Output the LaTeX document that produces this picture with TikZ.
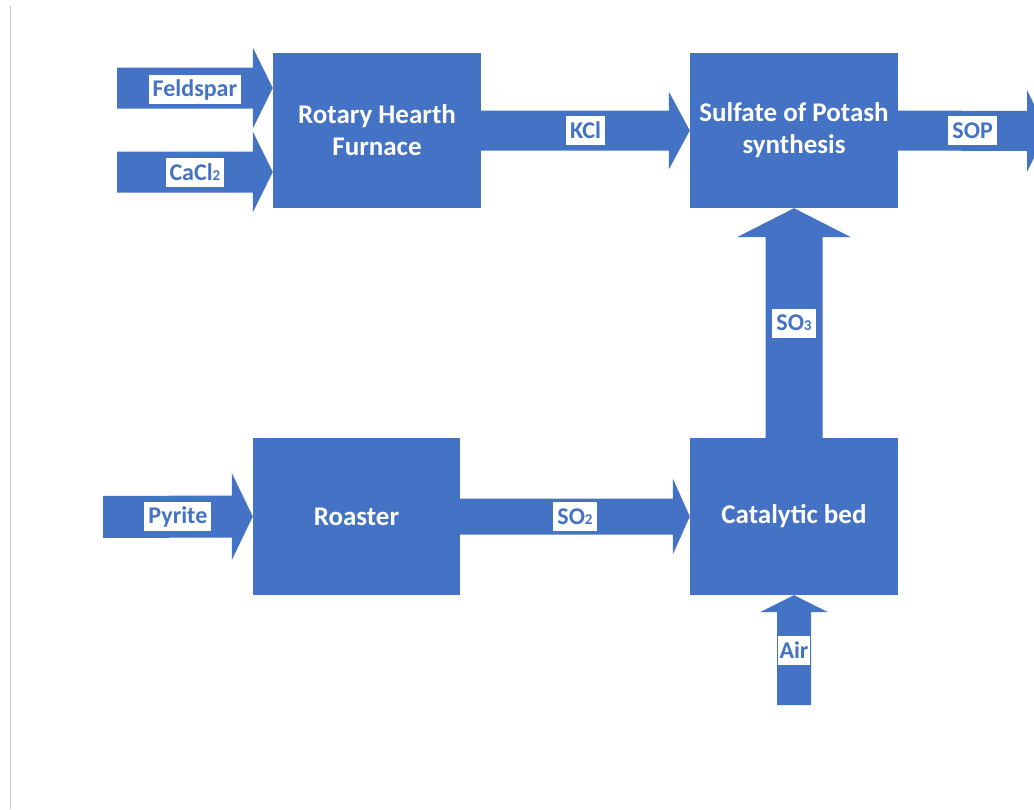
\documentclass[tikz,border=0pt]{standalone}
\usepackage{fontspec}
\setmainfont{Carlito}
\usetikzlibrary{calc,positioning}

\definecolor{flowblue}{HTML}{4472C4}

% block arrow pointing right: from, to, half shaft, half head, head length
\newcommand\rflow[5]{%
  \fill[flowblue] ($(#1)+(0,-#3)$) -- ($(#2)+(-#5,-#3)$) -- ($(#2)+(-#5,-#4)$)
    -- (#2) -- ($(#2)+(-#5,#4)$) -- ($(#2)+(-#5,#3)$) -- ($(#1)+(0,#3)$) -- cycle;}
% block arrow pointing up: from, to, half shaft, half head, head length
\newcommand\uflow[5]{%
  \fill[flowblue] ($(#1)+(-#3,0)$) -- ($(#2)+(-#3,#5)$) -- ($(#2)+(-#4,#5)$)
    -- (#2) -- ($(#2)+(#4,#5)$) -- ($(#2)+(#3,#5)$) -- ($(#1)+(#3,0)$) -- cycle;}
% small index digit sitting on the baseline
\newcommand\idx[1]{{\fontsize{15}{15}\selectfont #1}}

\begin{document}
\begin{tikzpicture}[x=1pt,y=-1pt]
  \tikzset{unit/.style={rectangle, fill=flowblue, text=white, align=center,
      font=\fontsize{27}{32}\selectfont\bfseries, inner sep=0pt},
    tag/.style={rectangle, fill=white, text=flowblue, inner xsep=4pt, inner ysep=1pt,
      minimum height=29pt, font=\fontsize{24}{28}\selectfont\bfseries}}
  \useasboundingbox (0,0) rectangle (1034,809);
  \draw[gray!45, line width=1pt] (10.5,6) -- (10.5,809);

  % process units
  \node (furnace) [unit, minimum width=208pt, minimum height=155pt] at (377,130.5) {Rotary Hearth\\Furnace};
  \node (sop) [unit, minimum width=208pt, minimum height=155pt] at (794,130.5) {Sulfate of Potash\\synthesis};
  \node (roaster) [unit, minimum width=207pt, minimum height=157pt] at (356.5,516.5) {Roaster};
  \node (bed) [unit, minimum width=208pt, minimum height=157pt] at (794,516.5) {Catalytic bed};

  % free ends of the streams
  \coordinate (feldIn) at (117,88);
  \coordinate (feldOut) at (furnace.west |- feldIn);
  \coordinate (cacIn) at (117,172);
  \coordinate (cacOut) at (furnace.west |- cacIn);
  \coordinate (pyrIn) at (103,517);
  \coordinate (sopOut) at (1047,131);
  \coordinate (airIn) at (794,705);

  % streams
  \rflow{feldIn}{feldOut}{20.5}{40.5}{20}
  \rflow{cacIn}{cacOut}{20.5}{40.5}{20}
  \rflow{furnace.east}{sop.west}{20}{39}{21}
  \rflow{sop.east}{sopOut}{20}{41}{20}
  \rflow{pyrIn}{roaster.west}{21}{43.5}{21}
  \rflow{roaster.east}{bed.west}{18}{38}{17}
  \uflow{bed.north}{sop.south}{28.5}{57}{29}
  \uflow{airIn}{bed.south}{17}{34}{17}

  % stream labels
  \path (feldIn) -- (feldOut) node (feldspar) [tag, midway, yshift=-1.5pt] {Feldspar};
  \path (cacIn) -- (cacOut) node (cacl) [tag, midway] {CaCl\idx{2}};
  \path (furnace.east) -- (sop.west) node (kcl) [tag, midway] {KCl};
  \path (sop.east) -- (sopOut) node (soplabel) [tag, midway] {SOP};
  \path (pyrIn) -- (roaster.west) node (pyrite) [tag, midway] {Pyrite};
  \path (roaster.east) -- (bed.west) node (sotwo) [tag, midway] {SO\idx{2}};
  \path (bed.north) -- (sop.south) node (sothree) [tag, midway] {SO\idx{3}};
  \path (airIn) -- (bed.south) node (air) [tag, midway, inner xsep=1.5pt] {Air};
\end{tikzpicture}
\end{document}
